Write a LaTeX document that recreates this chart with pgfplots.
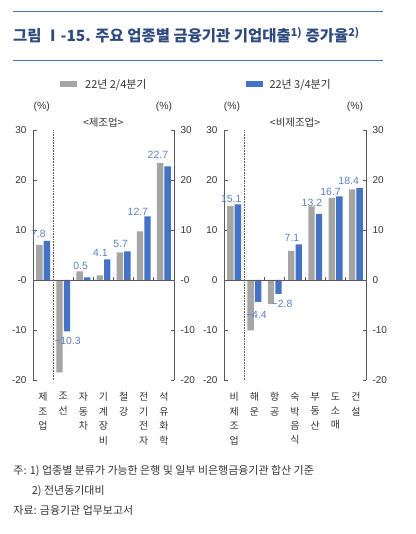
\documentclass[border=0pt]{standalone}
\usepackage{fontspec}
\setmainfont{Noto Sans CJK KR}
\newfontfamily\lib{Liberation Sans}
\usepackage{pgfplots}
\pgfplotsset{compat=1.18}
\usepackage{pgfplotstable}
\definecolor{barg}{HTML}{A5A5A5}
\definecolor{barb}{HTML}{4472C4}
\definecolor{lblb}{HTML}{5B80C2}
\definecolor{ttl}{HTML}{2E4A7E}
\definecolor{rulec}{HTML}{4F6F9F}
\definecolor{axc}{HTML}{595959}
\definecolor{txt}{HTML}{333333}

\pgfplotstableread{
x g b lab dx dy
0 7.0 7.8 7.8 -4.7 7.2
1 -18.5 -10.3 −10.3 4.3 -9.8
2 1.7 0.5 0.5 -2.8 12
3 0.9 4.1 4.1 -3 6.3
4 5.5 5.7 5.7 -2.9 7.9
5 9.7 12.7 12.7 -5.9 4.8
6 23.4 22.7 22.7 -6 11.5
}\mfg

\pgfplotstableread{
x g b lab dx dy
0 14.8 15.1 15.1 -2.9 5.2
1 -10.1 -4.4 −4.4 2 -13
2 -4.8 -2.8 −2.8 7.3 -10.3
3 5.8 7.1 7.1 -3 6.5
4 14.7 13.2 13.2 -3.4 11.5
5 16.4 16.7 16.7 -5 4.5
6 18.1 18.4 18.4 -7.2 6.8
}\nmfg

\pgfplotsset{
  panel/.style={
    scale only axis, height=250bp,
    xmin=-0.5, xmax=6.5, ymin=-20, ymax=30,
    separate axis lines,
    x axis line style={draw=none},
    y axis line style={draw=axc, line width=0.8bp},
    tick align=inside,
    major tick length=3.5bp,
    ytick={-20,-10,0,10,20,30},
    ytick style={draw=axc, line width=0.8bp},
    xtick={0,1,2,3,4,5,6},
    xtick style={draw=none},
    yticklabel style={font=\lib\fontsize{10}{12}\selectfont, text=txt, xshift=-3bp},
    xticklabel style={align=center, font=\fontsize{10}{14.5}\selectfont, text=txt, yshift=-9bp},
    clip=false,
  },
  rlab/.style={
    scale only axis, height=250bp,
    xmin=-0.5, xmax=6.5, ymin=-20, ymax=30,
    separate axis lines,
    hide x axis,
    y axis line style={draw=none},
    ytick style={draw=none},
    ytick={-20,-10,0,10,20,30},
    yticklabel pos=right,
    yticklabel style={font=\lib\fontsize{10}{12}\selectfont, text=txt, xshift=3bp},
  },
  gbar/.style={ybar, bar width=6.4bp, bar shift=-3.75bp, fill=barg, draw=none},
  bbar/.style={ybar, bar width=6.4bp, bar shift=3.75bp, fill=barb, draw=none,
    nodes near coords, point meta=explicit symbolic,
    visualization depends on={\thisrow{dx} \as \dx},
    visualization depends on={\thisrow{dy} \as \dy},
    every node near coord/.append style={anchor=center, inner sep=0pt,
      xshift=\dx bp, yshift=\dy bp, font=\lib\fontsize{10.5}{12}\selectfont, text=lblb}},
}

\begin{document}
\begin{tikzpicture}[x=1bp,y=1bp]
\useasboundingbox (0,0) rectangle (415,534);
% title and rules
\draw[rulec, line width=1bp] (13,522.3) -- (383,522.3);
\draw[rulec, line width=1bp] (13,473) -- (383,473);
\node[anchor=west, inner sep=0pt, text=ttl, font=\bfseries\fontsize{15.5}{18}\selectfont] at (13,499)
  {그림 Ⅰ-15. 주요 업종별 금융기관 기업대출\textsuperscript{1)} 증가율\textsuperscript{2)}};
% legend
\fill[barg] (60,446.7) rectangle (77.3,453);
\node[anchor=west, inner sep=0pt, text=txt, font=\fontsize{11}{13}\selectfont] at (85,449.5) {22년 2/4분기};
\fill[barb] (245.7,446.7) rectangle (263.3,453);
\node[anchor=west, inner sep=0pt, text=txt, font=\fontsize{11}{13}\selectfont] at (269.3,449.5) {22년 3/4분기};
% units
\foreach \xx in {41.7,164,232,355} {
  \node[inner sep=0pt, text=txt, font=\lib\fontsize{10.5}{12}\selectfont] at (\xx,427.3) {(\%)};
}
\node[inner sep=0pt, text=txt, font=\fontsize{10.5}{12}\selectfont] at (103.3,411) {<제조업>};
\node[inner sep=0pt, text=txt, font=\fontsize{10.5}{12}\selectfont] at (295,411) {<비제조업>};

% left panel
\begin{axis}[panel, at={(33bp,154bp)}, anchor=south west, width=141bp,
  yticklabels={-20,-10,-0,10,20,30},
  xticklabels={{제\\조\\업},{조\\선},{자\\동\\차},{기\\계\\장\\비},{철\\강},{전\\기\\전\\자},{석\\유\\화\\학}}]
\addplot[gbar] table[x=x,y=g] {\mfg};
\addplot[bbar] table[x=x,y=b,meta=lab] {\mfg};
\draw[axc, line width=0.8bp] (axis cs:-0.5,0) -- (axis cs:6.5,0);
\draw[axc, densely dotted, line width=0.6bp] (axis cs:0.5,-20) -- (axis cs:0.5,30);
\draw[axc, line width=0.8bp] (axis cs:1.5,0) -- (axis cs:1.5,0.65);
\draw[axc, line width=0.8bp] (axis cs:2.5,0) -- (axis cs:2.5,0.65);
\draw[axc, line width=0.8bp] (axis cs:3.5,0) -- (axis cs:3.5,0.65);
\draw[axc, line width=0.8bp] (axis cs:4.5,0) -- (axis cs:4.5,0.65);
\draw[axc, line width=0.8bp] (axis cs:5.5,0) -- (axis cs:5.5,0.65);
\end{axis}
\begin{axis}[rlab, at={(33bp,154bp)}, anchor=south west, width=141bp,
  yticklabels={-20,-10,-0,10,20,30}]
\end{axis}

% right panel
\begin{axis}[panel, at={(224bp,154bp)}, anchor=south west, width=142bp,
  yticklabels={-20,-10,0,10,20,30},
  xticklabels={{비\\제\\조\\업},{해\\운},{항\\공},{숙\\박\\음\\식},{부\\동\\산},{도\\소\\매},{건\\설}}]
\addplot[gbar] table[x=x,y=g] {\nmfg};
\addplot[bbar] table[x=x,y=b,meta=lab] {\nmfg};
\draw[axc, line width=0.8bp] (axis cs:-0.5,0) -- (axis cs:6.5,0);
\draw[axc, densely dotted, line width=0.6bp] (axis cs:0.5,-20) -- (axis cs:0.5,30);
\draw[axc, line width=0.8bp] (axis cs:1.5,0) -- (axis cs:1.5,0.65);
\draw[axc, line width=0.8bp] (axis cs:2.5,0) -- (axis cs:2.5,0.65);
\draw[axc, line width=0.8bp] (axis cs:3.5,0) -- (axis cs:3.5,0.65);
\draw[axc, line width=0.8bp] (axis cs:4.5,0) -- (axis cs:4.5,0.65);
\draw[axc, line width=0.8bp] (axis cs:5.5,0) -- (axis cs:5.5,0.65);
\end{axis}
\begin{axis}[rlab, at={(224bp,154bp)}, anchor=south west, width=142bp,
  yticklabels={-20,-10,0,10,20,30}]
\end{axis}

% footnotes
\node[anchor=west, inner sep=0pt, text=txt, font=\fontsize{11}{13}\selectfont] at (13.3,63) {주: 1) 업종별 분류가 가능한 은행 및 일부 비은행금융기관 합산 기준};
\node[anchor=west, inner sep=0pt, text=txt, font=\fontsize{11}{13}\selectfont] at (31.7,43) {2) 전년동기대비};
\node[anchor=west, inner sep=0pt, text=txt, font=\fontsize{11}{13}\selectfont] at (13.3,24) {자료: 금융기관 업무보고서};
\end{tikzpicture}
\end{document}
